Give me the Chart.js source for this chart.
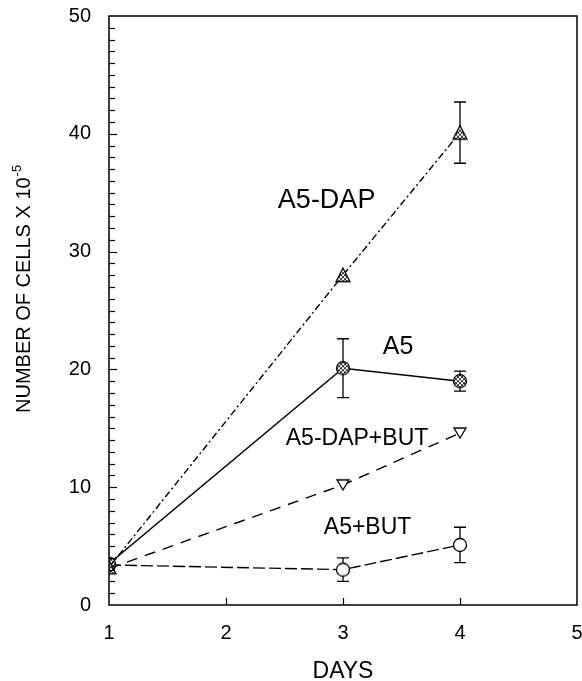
<!DOCTYPE html>
<html>
<head>
<meta charset="utf-8">
<script src="https://cdn.jsdelivr.net/npm/chart.js@4.4.1/dist/chart.umd.min.js"></script>
<style>
  html, body { margin: 0; padding: 0; background: #fff; }
  canvas { display: block; }
</style>
</head>
<body>
<canvas id="grafica" width="582" height="681"></canvas>
<script>
// --- datos ---
const days = [1, 3, 4];
const dapVals = [3.2, 28.0, 40.1];
const dapErr = [0, 0, 2.6];
const a5Vals = [3.5, 20.1, 19.0];
const a5Err = [0, 2.5, 0.85];
const dapButVals = [3.1, 10.2, 14.6];
const dapButErr = [0, 0, 0];
const butVals = [3.4, 3.0, 5.1];
const butErr = [0, 1.0, 1.5];
const xTicks = [1, 2, 3, 4, 5];
const yTicks = [0, 10, 20, 30, 40, 50];

const FONT = '"Liberation Sans", Arial, Helvetica, sans-serif';

// --- marcadores dibujados en un lienzo pequeño ---
function marcador(forma, rayado) {
    const c = document.createElement('canvas');
    c.width = 18; c.height = 18;
    const g = c.getContext('2d');
    const contorno = () => {
        g.beginPath();
        if (forma === 'circulo') g.arc(9, 9, 6.5, 0, Math.PI * 2);
        if (forma === 'triArriba') { g.moveTo(9, 2); g.lineTo(16, 15.5); g.lineTo(2, 15.5); g.closePath(); }
        if (forma === 'triAbajo') { g.moveTo(3, 4); g.lineTo(15, 4); g.lineTo(9, 14); g.closePath(); }
    };
    contorno();
    g.fillStyle = '#fff'; g.fill();
    if (rayado) {
        g.save(); g.clip();
        g.strokeStyle = '#000'; g.lineWidth = 0.8;
        for (let k = -18; k < 36; k += 4) {
            g.beginPath(); g.moveTo(k, 0); g.lineTo(k + 18, 18); g.stroke();
            g.beginPath(); g.moveTo(k + 18, 0); g.lineTo(k, 18); g.stroke();
        }
        g.restore();
    }
    contorno();
    g.strokeStyle = '#000'; g.lineWidth = 1.3; g.stroke();
    return c;
}

const puntos = (vals) => days.map((d, i) => ({ x: d, y: vals[i] }));

const series = [
    { label: 'A5-DAP', data: puntos(dapVals), err: dapErr, dash: [7, 3, 2, 3], style: marcador('triArriba', true) },
    { label: 'A5', data: puntos(a5Vals), err: a5Err, dash: [], style: marcador('circulo', true) },
    { label: 'A5-DAP+BUT', data: puntos(dapButVals), err: dapButErr, dash: [11, 8], style: marcador('triAbajo', false) },
    { label: 'A5+BUT', data: puntos(butVals), err: butErr, dash: [12, 4], style: marcador('circulo', false) }
];

// etiquetas dentro del grafico (en unidades de datos)
const rotulos = [
    { text: 'A5-DAP', x: 2.86, y: 33.7, size: 27 },
    { text: 'A5', x: 3.47, y: 21.3, size: 25 },
    { text: 'A5-DAP+BUT', x: 3.12, y: 13.6, size: 23 },
    { text: 'A5+BUT', x: 3.21, y: 6.0, size: 23 }
];

// --- plugin: marco, ticks interiores, barras de error, rotulos y titulos ---
const extras = {
    id: 'extras',
    beforeDatasetsDraw(chart) {
        const { ctx, scales: { x, y } } = chart;
        ctx.save();
        ctx.strokeStyle = '#000'; ctx.lineWidth = 1.3; ctx.setLineDash([]);
        series.forEach(s => {
            s.data.forEach((p, i) => {
                const e = s.err[i];
                if (!e) return;
                const px = x.getPixelForValue(p.x);
                const top = y.getPixelForValue(p.y + e), bot = y.getPixelForValue(p.y - e);
                ctx.beginPath();
                ctx.moveTo(px, top); ctx.lineTo(px, bot);
                ctx.moveTo(px - 6, top); ctx.lineTo(px + 6, top);
                ctx.moveTo(px - 6, bot); ctx.lineTo(px + 6, bot);
                ctx.stroke();
            });
        });
        ctx.restore();
    },
    afterDraw(chart) {
        const { ctx, chartArea: a, scales: { x, y } } = chart;
        ctx.save();
        ctx.strokeStyle = '#000'; ctx.setLineDash([]);
        ctx.lineWidth = 1.5;
        ctx.strokeRect(a.left, a.top, a.right - a.left, a.bottom - a.top);
        ctx.lineWidth = 1.2;
        // ticks menores en Y cada 1
        for (let v = 1; v < 50; v++) {
            const py = Math.round(y.getPixelForValue(v)) + 0.5;
            const largo = v % 10 === 0 ? 8 : 6;
            ctx.beginPath(); ctx.moveTo(a.left, py); ctx.lineTo(a.left + largo, py); ctx.stroke();
        }
        xTicks.slice(1, -1).forEach(v => {
            const px = Math.round(x.getPixelForValue(v)) + 0.5;
            ctx.beginPath(); ctx.moveTo(px, a.bottom); ctx.lineTo(px, a.bottom - 7); ctx.stroke();
        });
        // rotulos de las series
        ctx.fillStyle = '#000';
        ctx.textAlign = 'center'; ctx.textBaseline = 'alphabetic';
        rotulos.forEach(r => {
            ctx.font = r.size + 'px ' + FONT;
            ctx.fillText(r.text, x.getPixelForValue(r.x), y.getPixelForValue(r.y));
        });
        // titulo eje X
        ctx.font = '23px ' + FONT;
        ctx.fillText('DAYS', (a.left + a.right) / 2, 678);
        // titulo eje Y con superindice
        ctx.translate(30, 413);
        ctx.rotate(-Math.PI / 2);
        ctx.textAlign = 'left';
        ctx.font = '20px ' + FONT;
        const principal = 'NUMBER OF CELLS X 10';
        ctx.fillText(principal, 0, 0);
        const w = ctx.measureText(principal).width;
        ctx.font = '13px ' + FONT;
        ctx.fillText('-5', w + 1, -9);
        ctx.restore();
    }
};

new Chart(document.getElementById('grafica'), {
    type: 'line',
    data: {
        datasets: series.map(s => ({
            label: s.label,
            data: s.data,
            borderColor: '#000',
            borderWidth: 1.4,
            borderDash: s.dash,
            pointStyle: s.style,
            pointRadius: 8,
            fill: false,
            tension: 0
        }))
    },
    options: {
        responsive: false,
        animation: false,
        events: [],
        layout: { autoPadding: false, padding: { top: 16, right: 5, left: 0, bottom: 0 } },
        plugins: { legend: { display: false }, tooltip: { enabled: false } },
        scales: {
            x: {
                type: 'linear', min: 1, max: 5,
                afterBuildTicks: s => { s.ticks = xTicks.map(v => ({ value: v })); },
                grid: { display: false, drawTicks: false },
                border: { display: false },
                ticks: { padding: 16, color: '#000', font: { size: 20, family: FONT } },
                afterFit: s => { s.height = 76; s.paddingLeft = 0; s.paddingRight = 0; }
            },
            y: {
                type: 'linear', min: 0, max: 50,
                afterBuildTicks: s => { s.ticks = yTicks.map(v => ({ value: v })); },
                grid: { display: false, drawTicks: false },
                border: { display: false },
                ticks: { padding: 18, color: '#000', font: { size: 20, family: FONT } },
                afterFit: s => { s.width = 109; s.paddingTop = 0; s.paddingBottom = 0; }
            }
        }
    },
    plugins: [extras]
});
</script>
</body>
</html>
